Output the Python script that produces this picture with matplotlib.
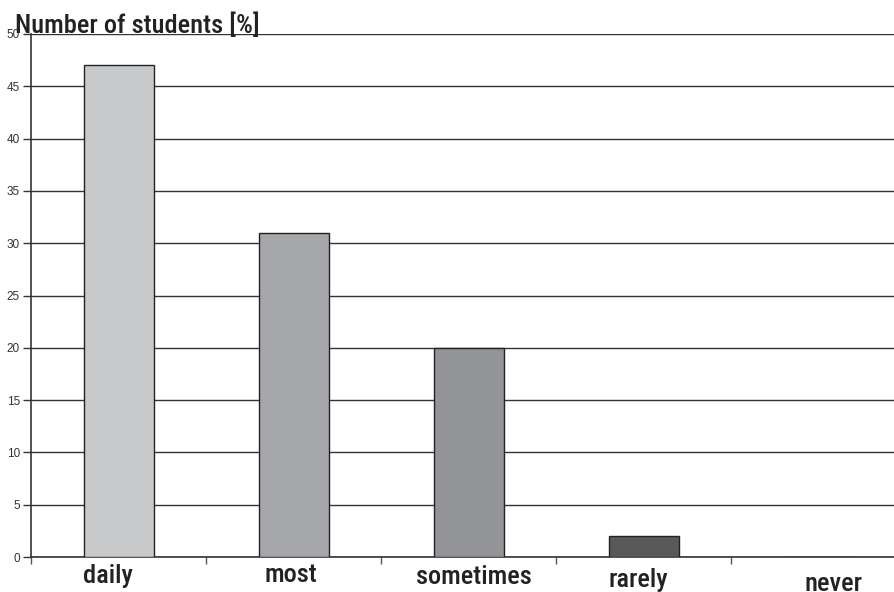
import matplotlib.pyplot as plt
import numpy as np

categories = ['daily', 'most', 'sometimes', 'rarely', 'never']
values = [47, 31, 20, 2, 0]
bar_colors = ['#c8c9cb', '#a6a7ab', '#939498', '#58595b', '#ffffff']
# the category labels are not aligned in the original, offsets in pixels
label_dx = [-11, -2.5, 5.5, -5.5, 14.5]
label_dy = [26.3, 24.7, 27.3, 30.5, 34]

narrow = ['Roboto Condensed', 'PT Sans Narrow', 'Liberation Sans', 'DejaVu Sans']
plain = ['Liberation Sans', 'DejaVu Sans']

fig = plt.figure(figsize=(8.94, 5.92), dpi=100)
ax = fig.add_axes([31 / 894, 35 / 592, 875 / 894, 523 / 592])

x = np.arange(len(categories))
ax.bar(x, values, width=0.4, color=bar_colors, edgecolor='#222222', linewidth=1.0, zorder=3)

ax.set_xlim(-0.5, len(categories) - 0.5)
ax.set_ylim(0, 50)
ax.set_yticks(np.arange(0, 51, 5))
ax.yaxis.grid(True, color='#333333', linewidth=1.0, zorder=0)
ax.set_axisbelow(True)
for lbl in ax.get_yticklabels():
    lbl.set_family(plain)
ax.tick_params(axis='y', labelsize=8.5, labelcolor='#333333', length=6, width=1, color='#333333', pad=2)

ax.set_xticks(np.arange(-0.5, len(categories), 1.0))
ax.set_xticklabels([])
ax.tick_params(axis='x', length=5, width=1, color='#555555', direction='out')

for s in ['top', 'right']:
    ax.spines[s].set_visible(False)
ax.spines['left'].set_color('#333333')
ax.spines['bottom'].set_color('#333333')
ax.spines['left'].set_linewidth(1.2)
ax.spines['bottom'].set_linewidth(1.2)

for i, c in enumerate(categories):
    ax.annotate(c, xy=(i, 0), xycoords='data', xytext=(label_dx[i], -label_dy[i]),
                textcoords='offset pixels', ha='center', va='baseline',
                fontsize=19, fontweight=500, family=narrow, color='#222222')

fig.text(15 / 894, 1 - 33 / 592, 'Number of students [%]', ha='left', va='baseline',
         fontsize=19, fontweight=500, family=narrow, color='#222222')

fig.savefig('out.png', dpi=100)
